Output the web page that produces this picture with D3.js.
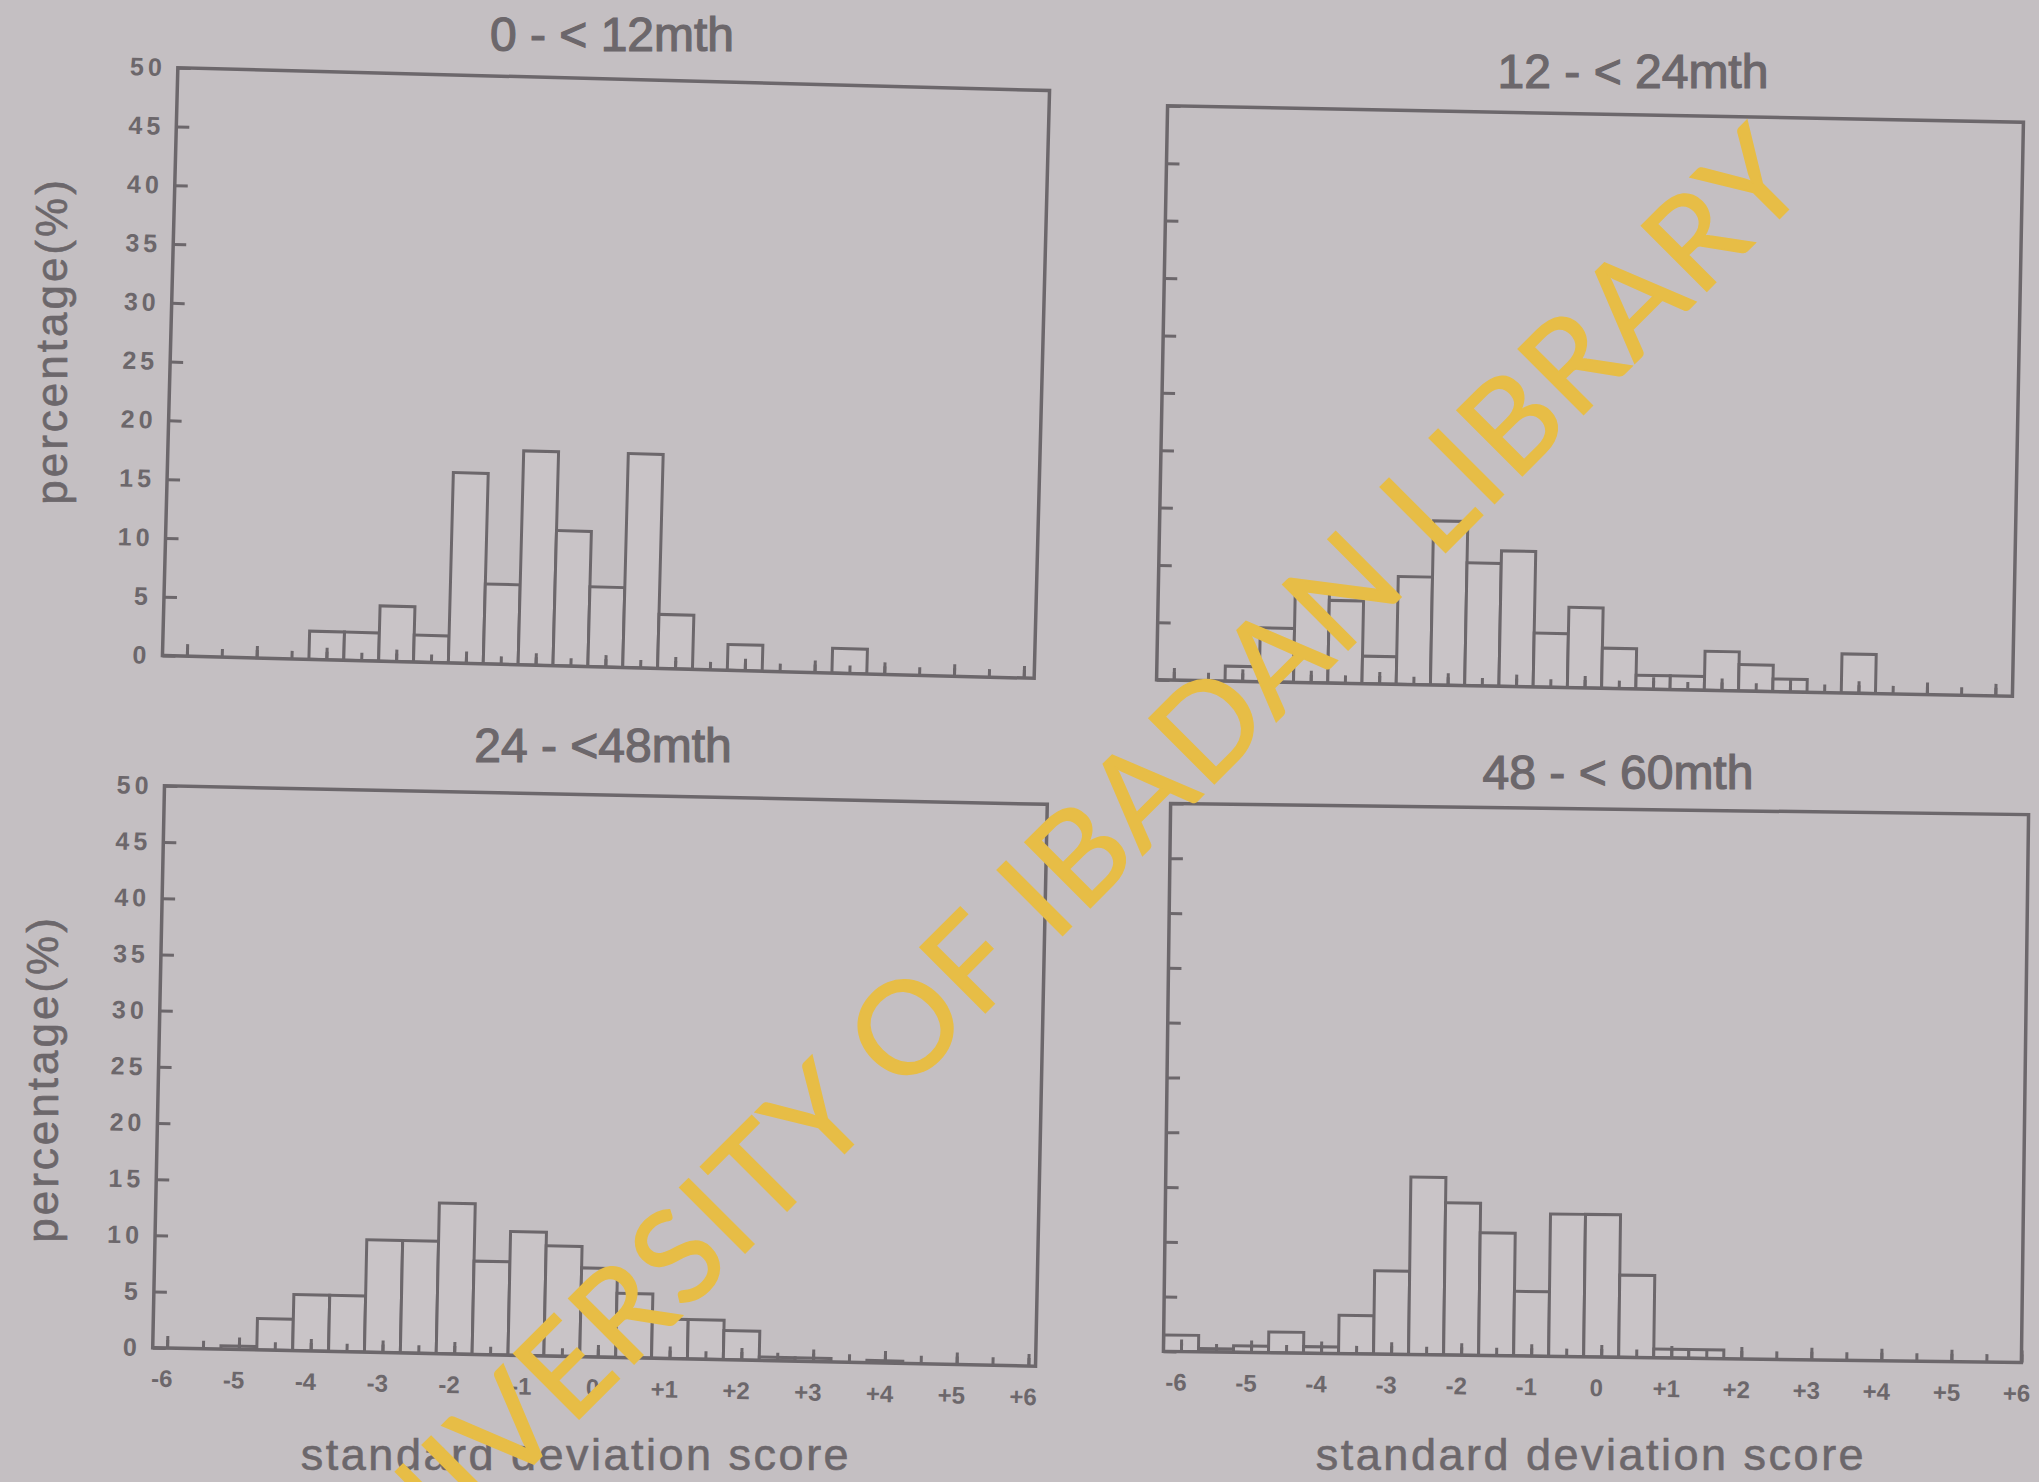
<!DOCTYPE html>
<html>
<head>
<meta charset="utf-8">
<script src="https://cdn.jsdelivr.net/npm/d3@7/dist/d3.min.js"></script>
<style>
  html, body { margin: 0; padding: 0; background: #c4bfc2; }
  svg { display: block; }
</style>
</head>
<body>
<div id="chart"></div>
<script>
// bin centres (standard deviation score), every bin is 0.5 wide
const binCenters = [-6, -5.5, -5, -4.5, -4, -3.5, -3, -2.5, -2, -1.5, -1, -0.5, 0,
  0.5, 1, 1.5, 2, 2.5, 3, 3.5, 4, 4.5, 5, 5.5, 6];

// percentage of children in each bin, one list per age group
const age0to12 = [0, 0, 0, 0, 2.4, 2.4, 4.7, 2.3, 16.2, 6.8, 18.2, 11.5, 6.8,
  18.2, 4.6, 0, 2.2, 0, 0, 2.1, 0, 0, 0, 0, 0];
const age12to24 = [0, 0, 1.3, 4.7, 8.3, 7.2, 2.4, 9.4, 14.3, 10.7, 11.8, 4.7, 7,
  3.5, 1.2, 1.2, 3.4, 2.3, 1.1, 0, 3.4, 0, 0, 0, 0];
const age24to48 = [0, 0, 0.3, 2.8, 5, 5, 10, 10, 13.4, 8.3, 11, 9.8, 7.9,
  5.7, 3.5, 3.5, 2.6, 0.3, 0.3, 0, 0.2, 0, 0, 0, 0];
const age48to60 = [1.5, 0.3, 0.6, 1.9, 0.6, 3.5, 7.6, 16.2, 13.9, 11.2, 5.9, 13, 13,
  7.5, 0.8, 0.8, 0, 0, 0, 0, 0, 0, 0, 0, 0];

const panelTitles = ["0 - < 12mth", "12 - < 24mth", "24 - <48mth", "48 - < 60mth"];
const yTickValues = [0, 5, 10, 15, 20, 25, 30, 35, 40, 45, 50];
const xTickValues = [-6, -5, -4, -3, -2, -1, 0, 1, 2, 3, 4, 5, 6];
const xTickLabels = ["-6", "-5", "-4", "-3", "-2", "-1", "0", "+1", "+2", "+3", "+4", "+5", "+6"];
const xTitle = "standard deviation score";
const yTitle = "percentage(%)";
const watermark = "UNIVERSITY OF IBADAN LIBRARY";

const W = 2039, H = 1482;
const ink = "#6c676b";
const font = "'Liberation Sans', Arial, sans-serif";

const svg = d3.select("#chart").append("svg").attr("width", W).attr("height", H);
svg.append("rect").attr("width", W).attr("height", H).attr("fill", "#c4bfc2");

// the photographed page is slightly rotated, so each panel gets its own tilt
const panels = [
  { values: age0to12, cx: 606, cy: 373, w: 872, h: 588, angle: 1.5, xDomain: [-6.35, 6.15],
    yLabels: true, xLabels: false, tx: 612, ty: 38, ylx: 55, yly: 341 },
  { values: age12to24, cx: 1590, cy: 401, w: 856, h: 574, angle: 1.1, xDomain: [-6.25, 6.25],
    yLabels: false, xLabels: false, tx: 1633, ty: 75 },
  { values: age24to48, cx: 600, cy: 1076, w: 883, h: 562, angle: 1.2, xDomain: [-6.2, 6.1],
    yLabels: true, xLabels: true, tx: 603, ty: 749, ylx: 46, yly: 1079, xtx: 576, xty: 1458 },
  { values: age48to60, cx: 1596, cy: 1083, w: 858, h: 548, angle: 0.75, xDomain: [-6.25, 6.0],
    yLabels: false, xLabels: true, tx: 1618, ty: 776, xtx: 1591, xty: 1458 }
];

panels.forEach(function (p, i) {
  const g = svg.append("g")
    .attr("transform", `translate(${p.cx},${p.cy}) rotate(${p.angle}) translate(${-p.w / 2},${-p.h / 2})`);

  const x = d3.scaleLinear().domain(p.xDomain).range([0, p.w]);
  const y = d3.scaleLinear().domain([0, 50]).range([p.h, 0]);

  g.append("clipPath").attr("id", "clip" + i)
    .append("rect").attr("width", p.w).attr("height", p.h);

  const bins = binCenters.map((c, k) => ({ c: c, v: p.values[k] })).filter(d => d.v > 0);

  // histogram bars
  g.append("g").attr("clip-path", `url(#clip${i})`)
    .selectAll("rect")
    .data(bins)
    .join("rect")
    .attr("x", d => x(d.c - 0.25))
    .attr("width", d => x(d.c + 0.25) - x(d.c - 0.25))
    .attr("y", d => y(d.v))
    .attr("height", d => y(0) - y(d.v))
    .attr("fill", "#c9c4c7")
    .attr("stroke", ink)
    .attr("stroke-width", 3);

  // y axis, ticks pointing inward
  const yAxis = d3.axisLeft(y).tickValues(yTickValues).tickSize(-13).tickPadding(12);
  if (!p.yLabels) yAxis.tickFormat("");
  g.append("g").call(yAxis)
    .style("color", ink)
    .attr("font-family", font)
    .attr("font-size", 25)
    .attr("font-weight", "bold")
    .call(s => s.select(".domain").remove())
    .call(s => s.selectAll("line").attr("stroke-width", 3))
    .call(s => s.selectAll("text").attr("letter-spacing", 4));

  // small ticks along the bottom at every half unit
  g.append("g").attr("transform", `translate(0,${p.h})`)
    .call(d3.axisBottom(x).tickValues(binCenters.filter(c => c >= p.xDomain[0] && c <= p.xDomain[1]))
      .tickSize(-8).tickFormat(""))
    .style("color", ink)
    .call(s => s.select(".domain").remove())
    .call(s => s.selectAll("line").attr("stroke-width", 3));

  // x axis with labels
  const xAxis = d3.axisBottom(x).tickValues(xTickValues).tickSize(-12).tickPadding(22)
    .tickFormat((d, k) => xTickLabels[k]);
  if (!p.xLabels) xAxis.tickFormat("");
  g.append("g").attr("transform", `translate(0,${p.h})`)
    .call(xAxis)
    .style("color", ink)
    .attr("font-family", font)
    .attr("font-size", 24)
    .attr("font-weight", "bold")
    .call(s => s.select(".domain").remove())
    .call(s => s.selectAll("line").attr("stroke-width", 3))
    .call(s => s.selectAll("text").attr("dx", -5));

  // frame
  g.append("rect")
    .attr("width", p.w).attr("height", p.h)
    .attr("fill", "none")
    .attr("stroke", ink)
    .attr("stroke-width", 3.5);

  svg.append("text")
    .attr("x", p.tx).attr("y", p.ty)
    .attr("text-anchor", "middle")
    .attr("dominant-baseline", "middle")
    .attr("font-family", font)
    .attr("font-size", 48)
    .attr("fill", ink)
    .attr("stroke", ink).attr("stroke-width", 1.2)
    .text(panelTitles[i]);

  if (p.ylx !== undefined) {
    svg.append("text")
      .attr("transform", `translate(${p.ylx},${p.yly}) rotate(-90)`)
      .attr("text-anchor", "middle")
      .attr("dominant-baseline", "middle")
      .attr("font-family", font)
      .attr("font-size", 44)
      .attr("letter-spacing", 3)
      .attr("fill", ink)
      .attr("stroke", ink).attr("stroke-width", 0.6)
      .text(yTitle);
  }
  if (p.xtx !== undefined) {
    svg.append("text")
      .attr("x", p.xtx).attr("y", p.xty)
      .attr("text-anchor", "middle")
      .attr("dominant-baseline", "middle")
      .attr("font-family", font)
      .attr("font-size", 45)
      .attr("letter-spacing", 2.5)
      .attr("fill", ink)
      .attr("stroke", ink).attr("stroke-width", 0.6)
      .text(xTitle);
  }
});

// library watermark across the page (its start runs off the bottom edge, as in the scan)
svg.append("text")
  .attr("transform", "translate(338,1660) rotate(-45)")
  .attr("font-family", "Lato, 'Liberation Sans', sans-serif")
  .attr("font-size", 129)
  .attr("textLength", 2085)
  .attr("lengthAdjust", "spacing")
  .attr("fill", "#e7bd46")
  .attr("stroke", "#e7bd46").attr("stroke-width", 1.5)
  .text(watermark);
</script>
</body>
</html>
